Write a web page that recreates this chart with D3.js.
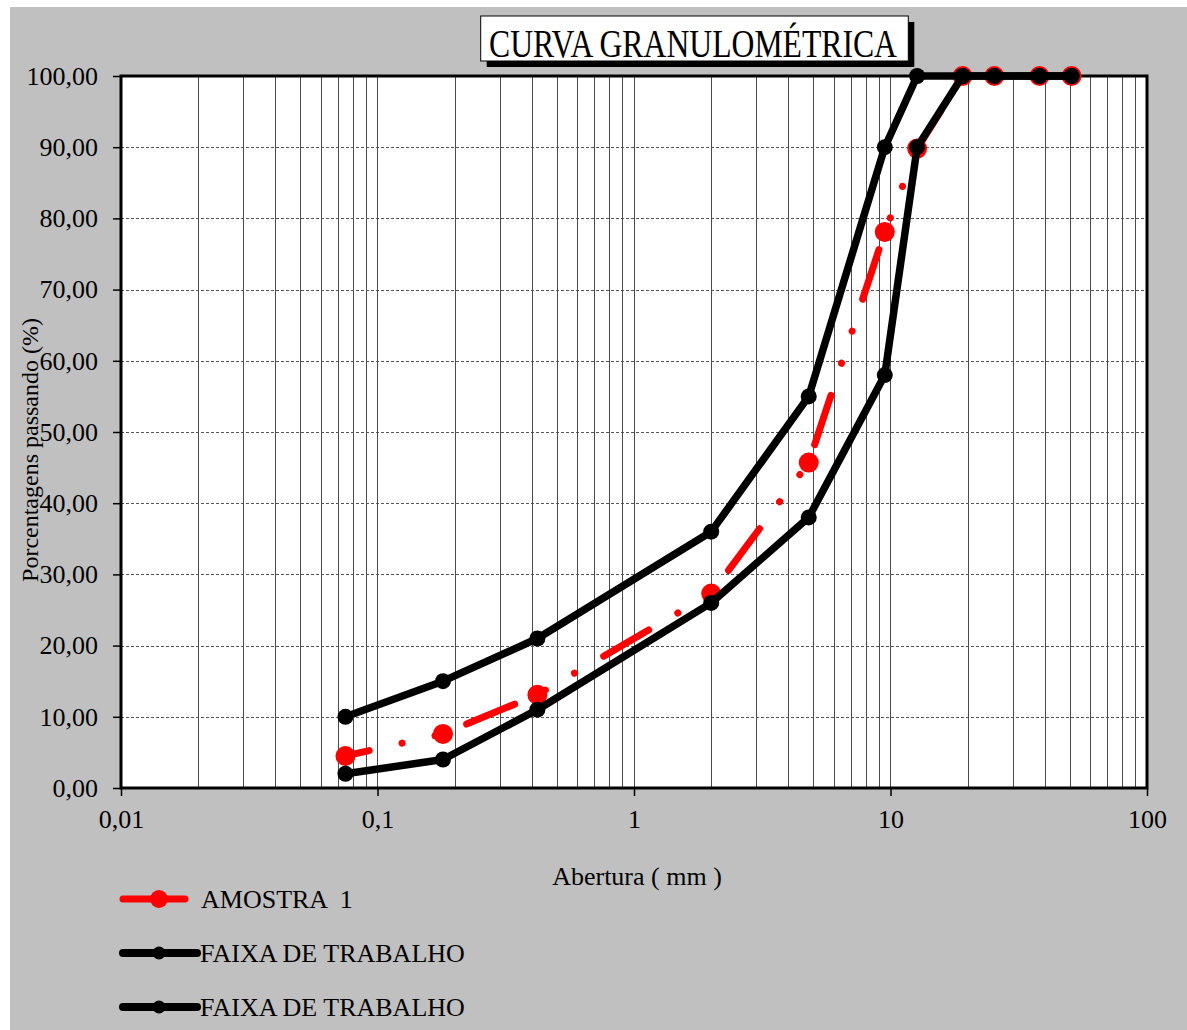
<!DOCTYPE html>
<html><head><meta charset="utf-8">
<script src="https://cdn.jsdelivr.net/npm/d3@7"></script>
<style>
body{margin:0;background:#fff}
svg{display:block}
text{font-family:"Liberation Serif","Times New Roman",serif;fill:#000}
</style>
</head><body>
<svg id="c" width="1187" height="1030"></svg>
<script>
// ---- data ----
const sieves   = [0.075, 0.18, 0.42, 2.0, 4.8, 9.5, 12.7, 19.1, 25.4, 38.1, 50.8];
const amostra  = [4.5, 7.6, 13.1, 27.3, 45.7, 78.1, 89.8, 100, 100, 100, 100];
const faixaSup = [10, 15, 21, 36, 55, 90, 100, 100, 100, 100, 100];
const faixaInf = [2, 4, 11, 26, 38, 58, 90, 100, 100, 100, 100];
const yTicks = [0, 10, 20, 30, 40, 50, 60, 70, 80, 90, 100];
const xTicks = [0.01, 0.1, 1, 10, 100];
const xTickLabels = ["0,01", "0,1", "1", "10", "100"];
const legendLabels = ["AMOSTRA  1", "FAIXA DE TRABALHO", "FAIXA DE TRABALHO"];
const titleText = "CURVA GRANULOMÉTRICA";
const xTitle = "Abertura ( mm )";
const yTitle = "Porcentagens passando (%)";

// ---- layout ----
const L = 121, R = 1147, T = 76, B = 788;
const svg = d3.select("#c");
const x = d3.scaleLog().domain([0.01, 100]).range([L, R]);
const y = d3.scaleLinear().domain([0, 100]).range([B, T]);
const fmtY = d => d3.format(".2f")(d).replace(".", ",");

svg.append("rect").attr("x", 10).attr("y", 7).attr("width", 1177).attr("height", 1023).attr("fill", "#c0c0c0");
svg.append("rect").attr("x", L).attr("y", T).attr("width", R - L).attr("height", B - T).attr("fill", "#fff");

// vertical log gridlines
const vgrid = x.ticks().filter(v => v > 0.0100001 && v < 99.999);
svg.append("g").selectAll("line").data(vgrid).join("line")
  .attr("x1", d => Math.round(x(d)) + 0.5).attr("x2", d => Math.round(x(d)) + 0.5)
  .attr("y1", T).attr("y2", B)
  .attr("stroke", "#4a4a4a").attr("stroke-width", 1);

// horizontal dashed gridlines
svg.append("g").selectAll("line").data(yTicks.filter(v => v > 0 && v < 100)).join("line")
  .attr("x1", L).attr("x2", R)
  .attr("y1", d => Math.round(y(d)) + 0.5).attr("y2", d => Math.round(y(d)) + 0.5)
  .attr("stroke", "#555").attr("stroke-width", 1).attr("stroke-dasharray", "3 2");

// axes
const yAxis = svg.append("g").attr("transform", `translate(${L},0)`)
  .call(d3.axisLeft(y).tickValues(yTicks).tickFormat(fmtY).tickSize(8).tickPadding(15));
const xAxis = svg.append("g").attr("transform", `translate(0,${B})`)
  .call(d3.axisBottom(x).tickValues(xTicks).tickFormat((d, i) => xTickLabels[i]).tickSize(8).tickPadding(14));
[yAxis, xAxis].forEach(a => {
  a.select(".domain").remove();
  a.selectAll("line").attr("stroke", "#000").attr("stroke-width", 1.5);
  a.selectAll("text").attr("font-family", '"Liberation Serif",serif').attr("font-size", 26).attr("fill", "#000");
});

// frame
svg.append("rect").attr("x", L).attr("y", T).attr("width", R - L).attr("height", B - T)
  .attr("fill", "none").attr("stroke", "#000").attr("stroke-width", 3);

// series
const line = d3.line().x(d => x(d[0])).y(d => y(d[1]));
const pts = vals => sieves.map((s, i) => [s, vals[i]]);

const gS = svg.append("g");
gS.append("path").attr("d", line(pts(amostra))).attr("fill", "none")
  .attr("stroke", "#ff0000").attr("stroke-width", 7).attr("stroke-linecap", "round")
  .attr("stroke-dasharray", "52 33.7 0.1 33.7 0.1 33.7").attr("stroke-dashoffset", 27.7);
gS.selectAll("circle.a").data(pts(amostra)).join("circle").attr("class", "a")
  .attr("cx", d => x(d[0])).attr("cy", d => y(d[1])).attr("r", 10).attr("fill", "#ff0000");

[faixaSup, faixaInf].forEach(vals => {
  const g = svg.append("g");
  g.append("path").attr("d", line(pts(vals))).attr("fill", "none")
    .attr("stroke", "#000").attr("stroke-width", 7.5).attr("stroke-linejoin", "round").attr("stroke-linecap", "round");
  g.selectAll("circle").data(pts(vals)).join("circle")
    .attr("cx", d => x(d[0])).attr("cy", d => y(d[1])).attr("r", 8).attr("fill", "#000");
});

// axis titles
svg.append("text").attr("x", 637).attr("y", 885).attr("text-anchor", "middle").attr("font-size", 26).text(xTitle);
svg.append("text").attr("transform", "translate(38,450) rotate(-90)").attr("text-anchor", "middle")
  .attr("font-size", 24).text(yTitle);

// title
svg.append("rect").attr("x", 486.7).attr("y", 22).attr("width", 427.6).attr("height", 45).attr("fill", "#000");
svg.append("rect").attr("x", 480.7).attr("y", 16).attr("width", 427.6).attr("height", 45)
  .attr("fill", "#fff").attr("stroke", "#000").attr("stroke-width", 1);
svg.append("text").attr("x", 489).attr("y", 56.5).attr("font-size", 40)
  .attr("textLength", 408).attr("lengthAdjust", "spacingAndGlyphs").text(titleText);

// legend
const legY = [899, 953, 1007];
const legColors = ["#ff0000", "#000", "#000"];
const legEnd = [185, 197, 197];
const legR = [9, 6.5, 6.5];
const legW = [7, 8, 8];
const legTX = [201, 200, 200];
legendLabels.forEach((lab, i) => {
  const g = svg.append("g");
  g.append("line").attr("x1", 123).attr("x2", legEnd[i]).attr("y1", legY[i]).attr("y2", legY[i])
    .attr("stroke", legColors[i]).attr("stroke-width", legW[i]).attr("stroke-linecap", "round");
  g.append("circle").attr("cx", 159).attr("cy", legY[i]).attr("r", legR[i]).attr("fill", legColors[i]);
  g.append("text").attr("x", legTX[i]).attr("y", legY[i] + 9).attr("font-size", 26)
    .style("white-space", "pre").text(lab);
});
</script>
</body></html>
